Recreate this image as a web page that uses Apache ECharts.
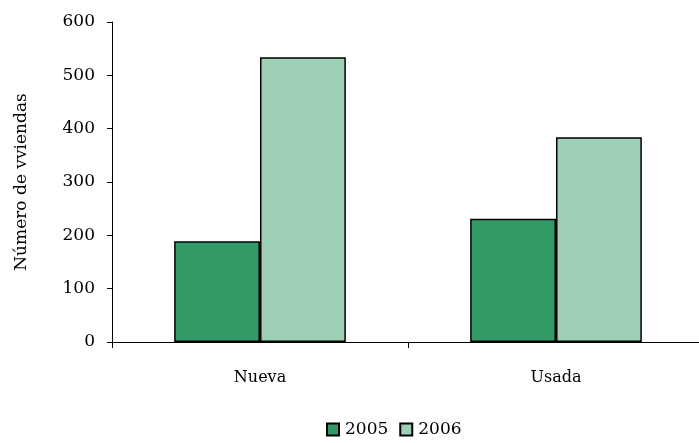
<!DOCTYPE html>
<html>
<head>
    <meta charset="utf-8">
    <title>Viviendas</title>
    <style>
        html, body { margin: 0; padding: 0; background: #fff; }
        #chart { width: 699px; height: 443px; }
    </style>
</head>
<body>
<div id="chart"></div>
<script src="https://cdn.jsdelivr.net/npm/echarts@6/dist/echarts.min.js"></script>
<script>
    // datos
    var categorias = ['Nueva', 'Usada'];
    var serie2005 = [189, 231];
    var serie2006 = [534, 384];
    var ticksY = [0, 100, 200, 300, 400, 500, 600];

    var fuente = '"DejaVu Serif", "Liberation Serif", serif';

    var chart = echarts.init(document.getElementById('chart'));
    chart.setOption({
        animation: false,
        grid: { left: 112, width: 592, top: 22, bottom: 101, outerBoundsMode: 'none' },
        legend: {
            bottom: 0,
            left: 321,
            itemWidth: 12,
            itemHeight: 12,
            itemGap: 11,
            icon: 'rect',
            textStyle: { fontFamily: fuente, fontSize: 17, color: '#000', padding: [0, 0, 0, 1] },
            data: ['2005', '2006']
        },
        xAxis: {
            type: 'category',
            data: categorias,
            axisLine: { lineStyle: { color: '#000', width: 1 } },
            axisTick: { show: true, length: 6, lineStyle: { color: '#000' } },
            axisLabel: { margin: 28, fontFamily: fuente, fontSize: 16, color: '#000' }
        },
        yAxis: {
            type: 'value',
            min: ticksY[0],
            max: ticksY[ticksY.length - 1],
            interval: 100,
            name: 'Número de vviendas',
            nameLocation: 'middle',
            nameGap: 82,
            nameTextStyle: { fontFamily: fuente, fontSize: 17, color: '#000' },
            axisLine: { show: true, lineStyle: { color: '#000', width: 1 } },
            axisTick: { show: true, length: 5, lineStyle: { color: '#000' } },
            splitLine: { show: false },
            axisLabel: { margin: 17, fontFamily: fuente, fontSize: 17, color: '#000' }
        },
        series: [
            {
                name: '2005',
                type: 'bar',
                data: serie2005,
                barGap: '0%',
                barCategoryGap: '42%',
                itemStyle: { color: '#339966', borderColor: '#000', borderWidth: 1.5 }
            },
            {
                name: '2006',
                type: 'bar',
                data: serie2006,
                itemStyle: { color: '#9ccfb4', borderColor: '#000', borderWidth: 1.5 }
            }
        ]
    });
</script>
</body>
</html>
